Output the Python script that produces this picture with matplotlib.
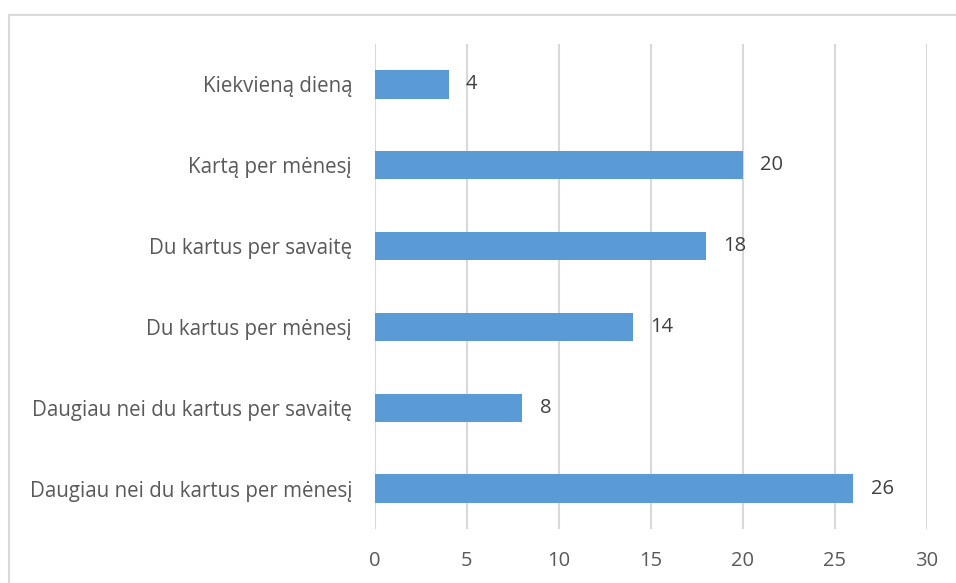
import matplotlib.pyplot as plt
from matplotlib.patches import Rectangle

categories = [
    "Daugiau nei du kartus per mėnesį",
    "Daugiau nei du kartus per savaitę",
    "Du kartus per mėnesį",
    "Du kartus per savaitę",
    "Kartą per mėnesį",
    "Kiekvieną dieną",
]
values = [26, 8, 14, 18, 20, 4]
xticks = [0, 5, 10, 15, 20, 25, 30]

text_color = "#595959"
bar_color = "#5b9bd5"
grid_color = "#d9d9d9"

plt.rcParams["font.family"] = ["Open Sans", "DejaVu Sans"]

fig = plt.figure(figsize=(9.56, 5.83), dpi=100)
ax = fig.add_axes([375 / 956, 1 - 529 / 583, 552 / 956, 485 / 583])

# light outer chart frame
fig.patches.append(Rectangle((8.5 / 956, -0.05), 1.0, 1 - 15 / 583 + 0.05,
                             transform=fig.transFigure, fill=False,
                             edgecolor="#d9d9d9", linewidth=1.5))

y = list(range(len(categories)))
ax.barh(y, values, height=0.35, color=bar_color, zorder=3)

for yi, v in zip(y, values):
    ax.annotate(str(v), (v, yi), xytext=(12.5, 0), textcoords="offset points",
                va="center", ha="left", fontsize=14.5, color="#404040")

ax.set_xlim(0, 30)
ax.set_ylim(-0.5, len(categories) - 0.5)
ax.set_xticks(xticks)
ax.set_xticklabels([str(t) for t in xticks], fontsize=14.5, color=text_color)
ax.set_yticks(y)
ax.set_yticklabels(categories, fontsize=14.8, color=text_color)
ax.tick_params(axis="both", length=0)
ax.tick_params(axis="x", pad=16)
ax.tick_params(axis="y", pad=16.5)

ax.grid(axis="x", color=grid_color, linewidth=1.5, zorder=0)
for s in ax.spines.values():
    s.set_visible(False)

fig.savefig("out.png", dpi=100)
